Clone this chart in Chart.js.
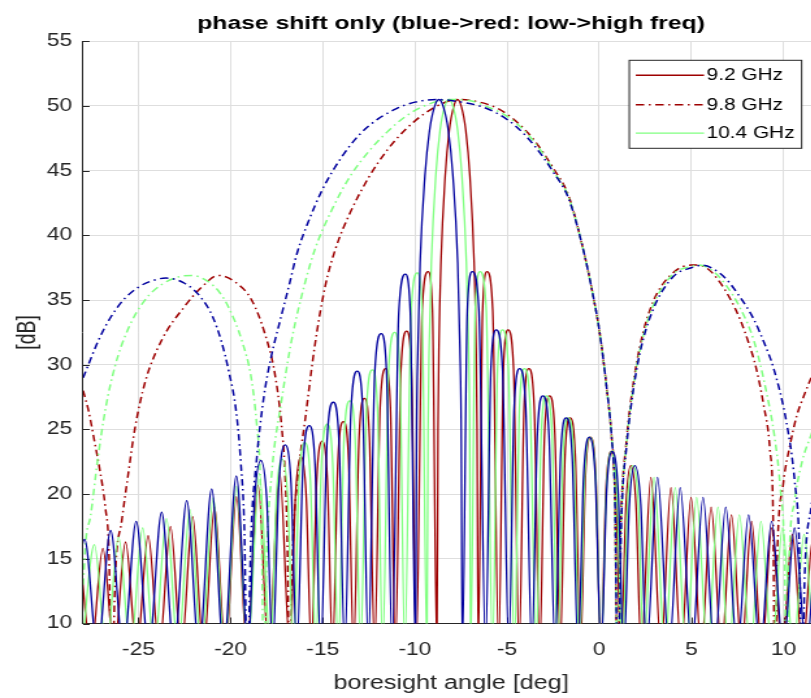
<!DOCTYPE html>
<html>
<head>
<meta charset="utf-8">
<title>phase shift only</title>
<script src="https://cdn.jsdelivr.net/npm/chart.js@4.4.1/dist/chart.umd.min.js"></script>
<style>
  html, body { margin: 0; padding: 0; background: #fff; overflow: hidden; }
</style>
</head>
<body>
<!-- drawn on a narrower bitmap and widened 1.3x, like the exported figure; the right side runs past the window -->
<canvas id="plot" width="630" height="698" style="width:819px;height:698px"></canvas>
<script>
// tick positions
const angleTicks = [-25, -20, -15, -10, -5, 0, 5, 10];
const dbTicks = [10, 15, 20, 25, 30, 35, 40, 45, 50, 55];
const legendLabels = ['9.2 GHz', '9.8 GHz', '10.4 GHz'];

// array pattern, dark red
const redAng = [-28.18, -27.57, -26.93, -26.32, -25.70, -25.09, -24.47, -23.87, -23.26, -22.67,
  -22.06, -21.47, -20.87, -20.28, -19.68, -19.11, -18.51, -17.94, -17.34, -16.78,
  -16.48, -16.18, -15.90, -15.62, -15.33, -15.03, -14.75, -14.47, -14.18, -13.88, -13.60, -13.33,
  -13.03, -12.74, -12.47, -12.19, -11.89, -11.59, -11.33, -11.06, -10.76, -10.45, -10.19, -9.93,
  -9.61, -9.29, -9.05, -8.81,
  -8.75, -8.70, -8.59, -8.36, -8.14, -7.91, -7.69, -7.47, -7.24, -7.02, -6.79, -6.68, -6.63, -6.57,
  -6.33, -6.09, -5.78, -5.46, -5.20, -4.95, -4.65, -4.35, -4.08, -3.82, -3.53, -3.23,
  -2.97, -2.70, -2.41, -2.12, -1.86, -1.59, -1.30, -1.02, -0.75, -0.48, -0.19, 0.09,
  0.36, 0.62, 0.89, 1.18, 1.45, 1.71, 1.99, 2.27, 2.80, 3.35, 3.89, 4.44, 4.98, 5.53,
  6.07, 6.63, 7.17, 7.72, 8.26, 8.82, 9.36, 9.92, 10.47, 11.03, 11.58, 12.14];
const redDb = [15.4, 8, 15.8, 8, 16.3, 8, 16.8, 8, 17.5, 8,
  18.25, 8, 19.0, 8, 19.8, 8, 20.7, 8, 21.7, 8,
  19.9, 22.9, 19.9, 8, 21.1, 24.1, 21.1, 8, 22.6, 25.6, 22.6, 8,
  24.4, 27.4, 24.4, 8, 26.7, 29.7, 26.7, 8, 29.6, 32.6, 29.6, 8,
  34.2, 37.2, 34.2, 8,
  24.9, 31.3, 37.9, 44.6, 48.1, 49.9, 50.5, 49.9, 48.1, 44.6, 37.9, 31.3, 24.9, 8,
  34.2, 37.2, 34.2, 8, 29.7, 32.7, 29.7, 8, 26.7, 29.7, 26.7, 8,
  24.6, 27.6, 24.6, 8, 22.9, 25.9, 22.9, 8, 21.4, 24.4, 21.4, 8,
  20.3, 23.3, 20.3, 8, 19.2, 22.2, 19.2, 8, 21.3, 8, 20.5, 8, 19.75, 8,
  19.0, 8, 18.4, 8, 17.9, 8, 17.4, 8, 16.9, 8, 16.5, 8];

// array pattern, light green
const greenAng = [-28.07, -27.39, -26.74, -26.08, -25.43, -24.77, -24.14, -23.48, -22.85, -22.21,
  -21.58, -20.94, -20.32, -19.68, -19.07, -18.44, -17.83,
  -17.52, -17.20, -16.90, -16.60, -16.29, -15.97, -15.67, -15.38, -15.07, -14.75, -14.46, -14.16,
  -13.85, -13.53, -13.24, -12.95, -12.63, -12.31, -12.03, -11.75, -11.43, -11.10, -10.82, -10.55,
  -10.21, -9.87, -9.61, -9.35,
  -9.29, -9.23, -9.11, -8.87, -8.64, -8.40, -8.16, -7.92, -7.68, -7.45, -7.21, -7.09, -7.03, -6.98,
  -6.73, -6.47, -6.13, -5.79, -5.52, -5.25, -4.93, -4.61, -4.33, -4.06, -3.75, -3.43,
  -3.15, -2.87, -2.56, -2.26, -1.97, -1.69, -1.38, -1.08, -0.79, -0.51, -0.20, 0.10,
  0.38, 0.66, 0.95, 1.25, 1.53, 1.81, 2.12, 2.40, 2.97, 3.56, 4.12, 4.71, 5.28, 5.87,
  6.44, 7.03, 7.60, 8.20, 8.77, 9.36, 9.94, 10.53, 11.11, 11.71, 12.30];
const greenDb = [8, 16.1, 8, 16.7, 8, 17.4, 8, 18.1, 8, 18.8,
  8, 19.7, 8, 20.6, 8, 21.6, 8,
  19.7, 22.7, 19.7, 8, 21.0, 24.0, 21.0, 8, 22.4, 25.4, 22.4, 8,
  24.2, 27.2, 24.2, 8, 26.6, 29.6, 26.6, 8, 29.5, 32.5, 29.5, 8,
  34.1, 37.1, 34.1, 8,
  24.9, 31.3, 37.9, 44.6, 48.1, 49.9, 50.5, 49.9, 48.1, 44.6, 37.9, 31.3, 24.9, 8,
  34.2, 37.2, 34.2, 8, 29.7, 32.7, 29.7, 8, 26.7, 29.7, 26.7, 8,
  24.6, 27.6, 24.6, 8, 22.9, 25.9, 22.9, 8, 21.4, 24.4, 21.4, 8,
  20.3, 23.3, 20.3, 8, 19.2, 22.2, 19.2, 8, 21.3, 8, 20.5, 8, 19.75, 8,
  19.0, 8, 18.4, 8, 17.9, 8, 17.4, 8, 16.9, 8, 16.4];

// array pattern, dark blue
const blueAng = [-28.64, -27.92, -27.22, -26.51, -25.82, -25.12, -24.44, -23.74, -23.07, -22.38,
  -21.71, -21.03, -20.37, -19.69, -19.04,
  -18.70, -18.36, -18.04, -17.72, -17.38, -17.04, -16.72, -16.41, -16.07, -15.73, -15.42, -15.11,
  -14.77, -14.43, -14.12, -13.81, -13.47, -13.13, -12.83, -12.53, -12.18, -11.83, -11.54, -11.24,
  -10.88, -10.52, -10.25, -9.97,
  -9.91, -9.84, -9.72, -9.46, -9.21, -8.95, -8.70, -8.45, -8.19, -7.94, -7.68, -7.56, -7.49, -7.43,
  -7.16, -6.89, -6.53, -6.17, -5.88, -5.59, -5.25, -4.91, -4.62, -4.32, -3.99, -3.66,
  -3.36, -3.06, -2.73, -2.40, -2.10, -1.80, -1.47, -1.15, -0.85, -0.54, -0.22, 0.10,
  0.40, 0.70, 1.02, 1.33, 1.63, 1.93, 2.25, 2.56, 3.16, 3.79, 4.39, 5.02, 5.63, 6.25,
  6.86, 7.49, 8.10, 8.73, 9.35, 9.98, 10.59, 11.23, 11.85, 12.48];
const blueDb = [8, 16.5, 8, 17.2, 8, 17.9, 8, 18.6, 8, 19.5,
  8, 20.4, 8, 21.4, 8,
  19.6, 22.6, 19.6, 8, 20.8, 23.8, 20.8, 8, 22.3, 25.3, 22.3, 8,
  24.1, 27.1, 24.1, 8, 26.5, 29.5, 26.5, 8, 29.4, 32.4, 29.4, 8,
  34.0, 37.0, 34.0, 8,
  24.9, 31.3, 37.9, 44.6, 48.1, 49.9, 50.5, 49.9, 48.1, 44.6, 37.9, 31.3, 24.9, 8,
  34.2, 37.2, 34.2, 8, 29.7, 32.7, 29.7, 8, 26.7, 29.7, 26.7, 8,
  24.6, 27.6, 24.6, 8, 22.9, 25.9, 22.9, 8, 21.4, 24.4, 21.4, 8,
  20.3, 23.3, 20.3, 8, 19.2, 22.2, 19.2, 8, 21.3, 8, 20.5, 8, 19.75, 8,
  19.0, 8, 18.4, 8, 17.9, 8, 17.4, 8, 16.9, 8];

// subarray pattern (dash-dot), dark red
const redDashAng = [-28.0, -27.7, -27.4, -27.1, -26.8, -26.6, -26.45, -26.25, -25.9, -25.55,
  -25.2, -24.65, -23.74, -22.5, -21.57, -20.67, -19.76, -18.86, -18.14, -17.6,
  -17.25, -17.05, -16.92, -16.8, -16.65, -16.33, -15.97, -15.43, -14.88, -14.3,
  -13.5, -12.5, -11.5, -10.5, -9.5, -8.5, -7.7, -6.5, -5.5, -4.5,
  -3.5, -2.5, -1.65, -0.87, -0.4, 0.03, 0.4, 0.67, 0.85, 0.98,
  1.15, 1.5, 1.75, 2.2, 2.9, 4.0, 5.0, 5.3, 5.9, 6.53,
  7.1, 7.61, 8.1, 8.5, 8.9, 9.26, 9.42, 9.53, 9.65, 9.98,
  10.35, 10.7, 11.1, 11.5, 12.0];
const redDashDb = [28.0, 26.4, 24.2, 21.9, 19.0, 15.5, 5, 14.0, 18.0, 21.6,
  25.0, 28.6, 31.9, 34.5, 36.0, 36.9, 36.4, 35.0, 32.4, 29.3,
  25.5, 21.6, 16.0, 5, 15.0, 21.6, 25.6, 31.5, 36.0, 39.0,
  41.8, 44.5, 46.6, 48.2, 49.4, 50.2, 50.5, 50.3, 49.8, 48.8,
  47.3, 45.2, 43.0, 38.9, 35.8, 32.4, 28.2, 24.4, 19.5, 5,
  17.0, 24.5, 27.6, 31.4, 34.8, 37.1, 37.7, 37.7, 37.4, 36.4,
  35.1, 33.6, 31.7, 29.8, 27.0, 23.4, 19.0, 5, 15.0, 20.8,
  23.8, 26.0, 27.6, 29.0, 30.4];

// subarray pattern (dash-dot), light green
const greenDashAng = [-28.0, -27.85, -27.6, -27.2, -26.8, -26.27, -25.55, -24.65, -23.74, -22.8,
  -22.1, -21.3, -20.6, -20.13, -19.4, -18.86, -18.59, -18.4, -18.3, -18.2,
  -18.05, -17.77, -17.23, -16.69, -15.97, -15.43, -14.5, -13.5, -12.5, -11.5,
  -10.5, -9.5, -8.16, -7.0, -6.0, -5.0, -4.0, -3.0, -2.5, -1.65,
  -0.87, -0.4, 0.03, 0.4, 0.67, 0.85, 0.99, 1.18, 1.5, 1.75,
  2.2, 2.9, 4.0, 5.0, 5.4, 6.2, 6.9, 7.6, 8.4, 9.08,
  9.5, 9.8, 10.05, 10.16, 10.3, 10.6, 11.0, 11.5, 12.0];
const greenDashDb = [13.0, 16.5, 18.3, 22.8, 26.5, 29.9, 32.8, 35.0, 36.2, 36.8,
  36.9, 36.5, 35.6, 34.5, 31.9, 28.8, 25.5, 21.6, 15.0, 5,
  15.0, 21.6, 27.3, 31.9, 36.3, 38.9, 42.0, 44.6, 46.5, 48.0,
  49.2, 50.0, 50.5, 50.4, 49.9, 49.2, 48.0, 46.2, 45.0, 42.9,
  38.9, 35.8, 32.4, 28.2, 24.4, 19.5, 5, 17.5, 24.2, 27.3,
  31.1, 34.5, 37.0, 37.6, 37.7, 37.2, 36.1, 34.5, 31.8, 27.8,
  24.5, 20.8, 15.0, 5, 15.0, 19.5, 22.5, 24.6, 26.5];

// subarray pattern (dash-dot), dark blue
const blueDashAng = [-28.0, -27.0, -26.0, -25.0, -24.0, -23.5, -23.0, -22.5, -22.0, -21.5,
  -21.0, -20.5, -20.1, -19.7, -19.45, -19.25, -19.1, -18.9, -18.6, -18.2,
  -17.8, -17.3, -16.8, -16.4, -15.8, -15.0, -14.0, -13.0, -12.0, -11.0,
  -10.0, -8.7, -7.5, -6.5, -5.5, -4.5, -3.5, -2.5, -1.65, -0.87,
  -0.4, 0.03, 0.4, 0.67, 0.85, 1.0, 1.2, 1.5, 1.75, 2.2,
  2.9, 4.0, 5.0, 5.6, 6.2, 6.9, 7.6, 8.35, 9.0, 9.44,
  10.16, 10.6, 10.85, 11.0, 11.15, 11.5, 12.0];
const blueDashDb = [29.0, 32.4, 34.7, 36.0, 36.6, 36.7, 36.6, 36.3, 35.8, 35.0,
  33.8, 31.8, 29.5, 26.4, 22.5, 17.0, 5, 16.5, 22.5, 27.5,
  30.6, 33.5, 36.3, 38.6, 41.0, 43.6, 46.0, 47.8, 49.0, 49.8,
  50.3, 50.5, 50.3, 50.0, 49.4, 48.4, 46.9, 44.9, 42.8, 38.9,
  35.8, 32.4, 28.2, 24.4, 19.5, 5, 18.0, 24.0, 27.1, 30.9,
  34.2, 36.8, 37.5, 37.7, 37.4, 36.6, 35.3, 33.6, 31.5, 29.8,
  25.5, 21.0, 16.0, 5, 14.0, 19.0, 23.5];

const FONT = "'Liberation Sans', Arial, Helvetica, sans-serif";
const AXIS = '#262626';
const RED = '#9e0000';
const GREEN = '#80ff80';
const BLUE = '#00009e';
const DASHDOT = [6.5, 3.5, 1.5, 3.5];

function points(ang, db) {
  return ang.map((a, i) => ({x: a, y: db[i]}));
}

// plotting order: later series are drawn over earlier ones
const series = [
  {data: points(redAng, redDb), color: RED, dash: []},
  {data: points(redDashAng, redDashDb), color: RED, dash: DASHDOT},
  {data: points(greenAng, greenDb), color: GREEN, dash: []},
  {data: points(greenDashAng, greenDashDb), color: GREEN, dash: DASHDOT},
  {data: points(blueAng, blueDb), color: BLUE, dash: []},
  {data: points(blueDashAng, blueDashDb), color: BLUE, dash: DASHDOT}
];

// short tick marks pointing into the plot
const innerTicks = {
  id: 'innerTicks',
  beforeDatasetsDraw(chart) {
    const {ctx, chartArea: a, scales: {x, y}} = chart;
    ctx.save();
    ctx.strokeStyle = AXIS;
    ctx.lineWidth = 1;
    ctx.beginPath();
    y.ticks.forEach(t => {
      const py = Math.round(y.getPixelForValue(t.value)) + 0.5;
      ctx.moveTo(a.left, py);
      ctx.lineTo(a.left + 5, py);
    });
    x.ticks.forEach(t => {
      const px = Math.round(x.getPixelForValue(t.value)) + 0.5;
      ctx.moveTo(px, a.bottom);
      ctx.lineTo(px, a.bottom - 6);
    });
    ctx.stroke();
    ctx.restore();
  }
};

// boxed legend in the upper right corner (first three lines only)
const boxLegend = {
  id: 'boxLegend',
  afterDraw(chart) {
    const {ctx, chartArea: a} = chart;
    const w = 132.6, h = 88;
    const left = a.left + 420.1, top = a.top + 19;
    ctx.save();
    ctx.fillStyle = '#fff';
    ctx.fillRect(left, top, w, h);
    ctx.strokeStyle = AXIS;
    ctx.lineWidth = 1;
    ctx.strokeRect(left, top, w, h);
    ctx.font = '16px ' + FONT;
    ctx.textBaseline = 'middle';
    ctx.textAlign = 'left';
    const rows = [15, 44.5, 72.8];
    legendLabels.forEach((label, i) => {
      const s = series[i];
      const yy = top + rows[i];
      ctx.strokeStyle = s.color;
      ctx.lineWidth = 1.4;
      ctx.setLineDash(s.dash);
      ctx.beginPath();
      ctx.moveTo(left + 5, yy);
      ctx.lineTo(left + 57.5, yy);
      ctx.stroke();
      ctx.setLineDash([]);
      ctx.fillStyle = '#000';
      ctx.fillText(label, left + 59.5, yy + 0.5);
    });
    ctx.restore();
  }
};

new Chart(document.getElementById('plot'), {
  type: 'line',
  data: {
    datasets: series.map((s, i) => ({
      data: s.data,
      borderColor: s.color,
      borderDash: s.dash,
      borderWidth: s.dash.length ? 1.5 : 1.3,
      pointRadius: 0,
      fill: false,
      cubicInterpolationMode: 'monotone',
      order: series.length - 1 - i
    }))
  },
  options: {
    responsive: false,
    devicePixelRatio: 1,
    animation: false,
    events: [],
    layout: {padding: 0},
    plugins: {
      legend: {display: false},
      tooltip: {enabled: false},
      title: {
        display: true,
        text: 'phase shift only (blue->red: low->high freq)',
        color: '#000',
        font: {family: FONT, size: 19, weight: 'bold'},
        padding: {top: 12.2, bottom: 6.3},
        fullSize: false
      }
    },
    scales: {
      x: {
        type: 'linear',
        min: -28,
        max: 11.92,
        afterBuildTicks: s => { s.ticks = angleTicks.map(v => ({value: v})); },
        grid: {color: '#dedede', drawTicks: false},
        border: {display: true, color: AXIS, width: 1},
        ticks: {
          color: AXIS, font: {family: FONT, size: 17.6}, padding: 16,
          maxRotation: 0, autoSkip: false, callback: v => String(v)
        },
        title: {
          display: true, text: 'boresight angle [deg]', color: AXIS,
          font: {family: FONT, size: 19.4}, padding: {top: -4.3, bottom: 2.4}
        }
      },
      y: {
        type: 'linear',
        min: 10,
        max: 55,
        afterBuildTicks: s => { s.ticks = dbTicks.map(v => ({value: v})); },
        grid: {color: '#dedede', drawTicks: false},
        border: {display: true, color: AXIS, width: 1},
        ticks: {
          color: AXIS, font: {family: FONT, size: 17.6}, padding: 8.3,
          callback: v => String(v)
        },
        title: {
          display: true, text: '[dB]', color: AXIS,
          font: {family: FONT, size: 19.4}, padding: {top: 10.3, bottom: -5.8}
        }
      }
    }
  },
  plugins: [innerTicks, boxLegend]
});
</script>
</body>
</html>
